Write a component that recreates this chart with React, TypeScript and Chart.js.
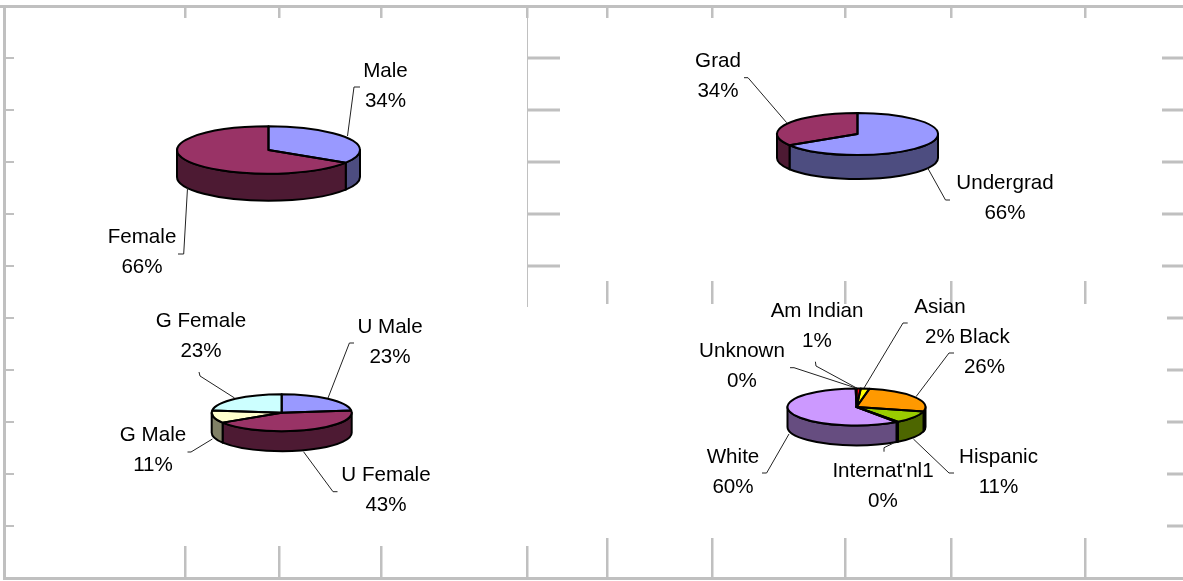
import React, { useEffect, useRef } from "react";
import { Chart, registerables } from "chart.js";

Chart.register(...registerables);

const W = 1183;
const H = 581;

// ---- data ----
const genderLabels = ["Male", "Female"];
const genderValues = [34, 66];
const levelLabels = ["Undergrad", "Grad"];
const levelValues = [66, 34];
const levelGenderLabels = ["U Male", "U Female", "G Male", "G Female"];
const levelGenderValues = [23, 43, 11, 23];
const ethnicLabels = ["Am Indian", "Asian", "Black", "Hispanic", "Internat'nl1", "White", "Unknown"];
const ethnicValues = [1, 2, 26, 11, 0.4, 60, 0.2];

// ---- colours ----
const topTwoA = ["#9999FF", "#993366"];
const sideTwoA = ["#4D4D80", "#4D1A33"];
const topFour = ["#9999FF", "#993366", "#FFFFCC", "#CCFFFF"];
const sideFour = ["#4D4D80", "#4D1A33", "#808066", "#668080"];
const topEthnic = ["#FF0000", "#FFFF00", "#FF9900", "#99CC00", "#000000", "#CC99FF", "#000000"];
const sideEthnic = ["#800000", "#808000", "#A86600", "#4D6600", "#000000", "#664D80", "#000000"];

// ---- frame of the sheet behind the charts ----
const frameColor = "#C0C0C0";
const rowTicks = [58, 110, 162, 214, 266, 318, 370, 422, 474, 526];
const leftColTicks = [185, 279, 381, 527];
const rightColTicks = [607, 712, 845, 951, 1085];

// ---- placement of each pie and its labels ----
type Pt = [number, number];
type LabelPlace = { x: number; y: number; line: Pt[] };
type PieDef = {
  labels: string[];
  values: number[];
  top: string[];
  side: string[];
  cx: number;
  cy: number;
  rx: number;
  ry: number;
  depth: number;
  places: LabelPlace[];
};

const pies: PieDef[] = [
  {
    labels: genderLabels,
    values: genderValues,
    top: topTwoA,
    side: sideTwoA,
    cx: 268.5,
    cy: 150,
    rx: 91.5,
    ry: 23.7,
    depth: 27,
    places: [
      { x: 385.5, y: 71, line: [[347.5, 136], [354, 87], [360, 87]] },
      { x: 142, y: 237, line: [[187.5, 188], [183.7, 254], [178, 254]] },
    ],
  },
  {
    labels: levelLabels,
    values: levelValues,
    top: topTwoA,
    side: sideTwoA,
    cx: 857.5,
    cy: 134,
    rx: 80.5,
    ry: 21,
    depth: 24,
    places: [
      { x: 1005, y: 183, line: [[927.7, 168], [945.5, 200], [950, 200]] },
      { x: 718, y: 61, line: [[786.7, 122.7], [748, 77.7], [744, 77.7]] },
    ],
  },
  {
    labels: levelGenderLabels,
    values: levelGenderValues,
    top: topFour,
    side: sideFour,
    cx: 281.7,
    cy: 412.7,
    rx: 70,
    ry: 18.5,
    depth: 20,
    places: [
      { x: 390, y: 327, line: [[328, 398], [349.4, 343], [354, 343]] },
      { x: 386, y: 475, line: [[303.5, 451.7], [333, 491.7], [337.5, 491.7]] },
      { x: 153, y: 435, line: [[212.4, 439], [191, 452], [187.5, 452]] },
      { x: 201, y: 321, line: [[234.6, 398], [200, 376], [199, 372]] },
    ],
  },
  {
    labels: ethnicLabels,
    values: ethnicValues,
    top: topEthnic,
    side: sideEthnic,
    cx: 856.5,
    cy: 407,
    rx: 69,
    ry: 18.5,
    depth: 20,
    places: [
      { x: 817, y: 311, line: [[856.6, 388], [816, 366], [815.4, 361.7]] },
      { x: 940, y: 307, line: [[864, 388], [903, 323], [907.7, 323]] },
      { x: 984.5, y: 337, line: [[916, 396.7], [949, 353], [954, 353]] },
      { x: 998.5, y: 457, line: [[913.4, 439], [949, 473], [954, 473]] },
      { x: 883, y: 471, line: [[893.7, 443], [884, 447.7], [884, 451.7]] },
      { x: 733, y: 457, line: [[789, 434], [766.6, 473], [762, 473]] },
      { x: 742, y: 351, line: [[856, 388], [794, 367.7], [790, 367.7]] },
    ],
  },
];

const framePlugin = {
  id: "sheetFrame",
  beforeDraw(chart: any) {
    const ctx = chart.ctx;
    ctx.save();
    ctx.fillStyle = frameColor;
    ctx.fillRect(0, 5, W, 3);
    ctx.fillRect(3, 5, 3, 575);
    ctx.fillRect(3, 577, W, 3);
    rowTicks.forEach((y, i) => {
      ctx.fillRect(6, y - 1, 8, 2);
      if (i < 5) {
        ctx.fillRect(528, y - 1.5, 32, 3);
        ctx.fillRect(1162, y - 1.5, 21, 3);
      } else {
        ctx.fillRect(1167, y - 1.5, 16, 3);
      }
    });
    leftColTicks.forEach((x) => {
      ctx.fillRect(x - 1, 8, 2.5, 10);
      ctx.fillRect(x - 1, 546, 2.5, 31);
    });
    rightColTicks.forEach((x) => {
      ctx.fillRect(x - 1, 8, 2.5, 10);
      ctx.fillRect(x - 1, 281, 2.5, 23);
      ctx.fillRect(x - 1, 538, 2.5, 39);
    });
    ctx.fillRect(527, 8, 1, 299);
    ctx.restore();
  },
};

function piePlugin(def: PieDef) {
  const k = def.ry / def.rx;
  return {
    id: "pie3d",
    beforeDatasetsDraw(chart: any) {
      const ctx = chart.ctx;
      const arcs = chart.getDatasetMeta(0).data;
      ctx.save();
      ctx.lineWidth = 2;
      ctx.strokeStyle = "#000";
      ctx.lineJoin = "round";
      arcs.forEach((a: any, i: number) => {
        const a0 = Math.max(a.startAngle, 0);
        const a1 = Math.min(a.endAngle, Math.PI);
        if (a0 >= a1) return;
        const r = a.outerRadius;
        ctx.beginPath();
        ctx.ellipse(a.x, a.y, r, r * k, 0, a0, a1);
        ctx.ellipse(a.x, a.y + def.depth, r, r * k, 0, a1, a0, true);
        ctx.closePath();
        ctx.fillStyle = def.side[i];
        ctx.fill();
        ctx.stroke();
      });
      ctx.restore();
      // flatten the library's own arcs into the tilted disc
      const first = arcs[0];
      ctx.save();
      ctx.translate(first.x, first.y);
      ctx.scale(1, k);
      ctx.translate(-first.x, -first.y);
    },
    afterDatasetsDraw(chart: any) {
      const ctx = chart.ctx;
      ctx.restore();
      const arcs = chart.getDatasetMeta(0).data;
      const total = def.values.reduce((s, v) => s + v, 0);
      ctx.save();
      ctx.lineWidth = 2;
      ctx.strokeStyle = "#000";
      ctx.lineJoin = "round";
      arcs.forEach((a: any) => {
        const r = a.outerRadius;
        ctx.beginPath();
        ctx.moveTo(a.x, a.y);
        ctx.ellipse(a.x, a.y, r, r * k, 0, a.startAngle, a.endAngle);
        ctx.closePath();
        ctx.stroke();
      });
      ctx.lineWidth = 1;
      def.places.forEach((p, i) => {
        ctx.beginPath();
        p.line.forEach(([x, y], j) => (j ? ctx.lineTo(x, y) : ctx.moveTo(x, y)));
        ctx.strokeStyle = "#222";
        ctx.stroke();
        ctx.fillStyle = "#000";
        ctx.font = '20.6px "Liberation Sans", Arial, sans-serif';
        ctx.textAlign = "center";
        ctx.textBaseline = "middle";
        ctx.fillText(def.labels[i], p.x, p.y);
        ctx.fillText(Math.round((def.values[i] / total) * 100) + "%", p.x, p.y + 30);
      });
      ctx.restore();
    },
  };
}

function PieCanvas({ def, frame }: { def: PieDef; frame: boolean }) {
  const ref = useRef<HTMLCanvasElement>(null);
  useEffect(() => {
    const chart = new Chart(ref.current as HTMLCanvasElement, {
      type: "pie",
      data: {
        labels: def.labels,
        datasets: [{ data: def.values, backgroundColor: def.top, borderWidth: 0 }],
      },
      options: {
        responsive: false,
        animation: false,
        layout: {
          padding: {
            left: def.cx - def.rx,
            right: W - def.cx - def.rx,
            top: def.cy - def.rx,
            bottom: H - def.cy - def.rx,
          },
        },
        plugins: { legend: { display: false }, tooltip: { enabled: false }, title: { display: false } },
      },
      plugins: frame ? [framePlugin, piePlugin(def)] : [piePlugin(def)],
    } as any);
    return () => chart.destroy();
  }, [def, frame]);
  return (
    <canvas
      ref={ref}
      width={W}
      height={H}
      style={{ position: "absolute", left: 0, top: 0, width: W, height: H }}
    />
  );
}

export default function App() {
  return (
    <div style={{ position: "fixed", left: 0, top: 0, width: W, height: H, background: "#fff", overflow: "hidden" }}>
      {pies.map((def, i) => (
        <PieCanvas key={i} def={def} frame={i === 0} />
      ))}
    </div>
  );
}
